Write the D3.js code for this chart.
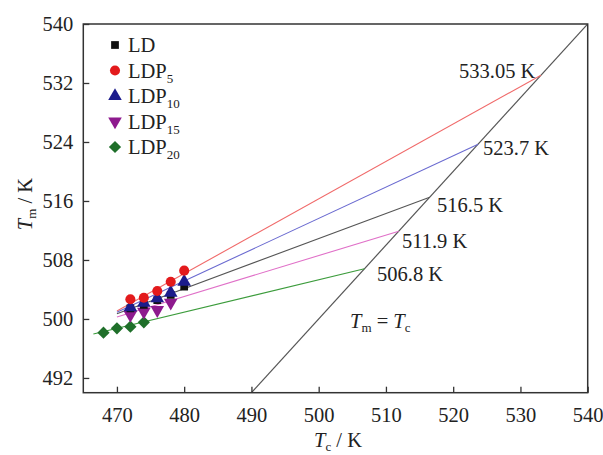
<!DOCTYPE html>
<html><head><meta charset="utf-8">
<script src="https://cdn.jsdelivr.net/npm/d3@7"></script>
<style>body{margin:0;background:#fff}svg{display:block}svg text{font-family:'Liberation Serif','Times New Roman',Times,serif !important;fill:#222}</style>
</head><body><svg id="c" width="603" height="455"></svg>
<script>
// ---- data ----
const seriesNames = ["LD","LDP5","LDP10","LDP15","LDP20"];
const tcLD = [472,474,476,478,480];
const tmLD = [501.45,501.9,502.57,503.25,504.37];
const tcLDP5 = [472,474,476,478,480];
const tmLDP5 = [502.67,502.88,503.79,505.05,506.55];
const tcLDP10 = [472,474,476,478,480];
const tmLDP10 = [501.58,502.2,502.8,503.56,505.05];
const tcLDP15 = [472,474,476,478];
const tmLDP15 = [500.54,500.99,501.21,502.2];
const tcLDP20 = [468,470,472,474];
const tmLDP20 = [498.14,498.73,498.95,499.55];
// extrapolated fit lines: start point and equilibrium melting point (Tm0)
const fitStartTc = [470,470,470,470,466.5];
const fitStartTm = [500.72,501.08,500.9,500.27,497.95];
const tmEq = [516.5,533.05,523.7,511.9,506.8];
const xTicks = [470,480,490,500,510,520,530,540];
const yTicks = [492,500,508,516,524,532,540];
const xDomain = [465,540];
const yDomain = [490,540];

// ---- styles ----
const markerColors = ["#111111","#e31a1c","#1c1c8c","#8e1a8e","#1f6f2a"];
const lineColors = ["#555555","#f06a6a","#6a6ad0","#e070c8","#3c9c3c"];
const shapes = ["square","circle","triangle","triangleDown","diamond"];
const FS = 20.5, SUB = 13;

const svg = d3.select("#c");
const L=83.3, R=587.7, T=24, B=392.7;
const x = d3.scaleLinear().domain(xDomain).range([L,R]);
const y = d3.scaleLinear().domain(yDomain).range([B,T]);

svg.append("clipPath").attr("id","clip").append("rect").attr("x",L).attr("y",T).attr("width",R-L).attr("height",B-T);
const g = svg.append("g").attr("clip-path","url(#clip)");

// diagonal Tm = Tc
g.append("line").attr("x1",x(490)).attr("y1",y(490)).attr("x2",x(540)).attr("y2",y(540))
 .attr("stroke","#555").attr("stroke-width",1.2);

// fit lines
seriesNames.forEach((n,i)=>{
  g.append("line").attr("x1",x(fitStartTc[i])).attr("y1",y(fitStartTm[i]))
   .attr("x2",x(tmEq[i])).attr("y2",y(tmEq[i]))
   .attr("stroke",lineColors[i]).attr("stroke-width",1.1);
});

function sym(shape,size){
  if(shape==="circle") return d3.symbol(d3.symbolCircle,size)();
  if(shape==="square"||shape==="diamond") return d3.symbol(d3.symbolSquare,size)();
  return d3.symbol(d3.symbolTriangle,size)();
}
function rot(shape){ return shape==="triangleDown"?180:(shape==="diamond"?45:0); }
const sizes = {square:60,circle:80,triangle:80,triangleDown:80,diamond:75};

const allTc=[tcLD,tcLDP5,tcLDP10,tcLDP15,tcLDP20];
const allTm=[tmLD,tmLDP5,tmLDP10,tmLDP15,tmLDP20];
const drawOrder=[4,3,0,2,1];
drawOrder.forEach(i=>{
  allTc[i].forEach((tc,k)=>{
    g.append("path").attr("d",sym(shapes[i],sizes[shapes[i]]))
     .attr("transform",`translate(${x(tc)},${y(allTm[i][k])}) rotate(${rot(shapes[i])})`)
     .attr("fill",markerColors[i]);
  });
});

// frame
svg.append("rect").attr("x",L).attr("y",T).attr("width",R-L).attr("height",B-T)
 .attr("fill","none").attr("stroke","#333").attr("stroke-width",1.5);

// axes (inward ticks)
const xa = svg.append("g").attr("transform",`translate(0,${B})`)
 .call(d3.axisBottom(x).tickValues(xTicks).tickSize(-6).tickPadding(11).tickFormat(d3.format("d")));
const ya = svg.append("g").attr("transform",`translate(${L},0)`)
 .call(d3.axisLeft(y).tickValues(yTicks).tickSize(-6).tickPadding(10).tickFormat(d3.format("d")));
[xa,ya].forEach(a=>{
  a.attr("font-family",null).attr("font-size",null);
  a.select(".domain").remove();
  a.selectAll(".tick line").attr("stroke","#333").attr("stroke-width",1.3);
  a.selectAll(".tick text").attr("font-size",FS).attr("fill","#222");
});
xa.selectAll(".tick text").attr("dy","0.9em");

// axis titles
const xt = svg.append("text").attr("x",338).attr("y",447).attr("text-anchor","middle").attr("font-size",FS);
xt.append("tspan").attr("font-style","italic").text("T");
xt.append("tspan").attr("font-size",SUB).attr("dy",4).text("c");
xt.append("tspan").attr("dy",-4).text(" / K");

const yt = svg.append("text").attr("transform","translate(32,204) rotate(-90)").attr("text-anchor","middle").attr("font-size",FS);
yt.append("tspan").attr("font-style","italic").text("T");
yt.append("tspan").attr("font-size",SUB).attr("dy",4).text("m");
yt.append("tspan").attr("dy",-4).text(" / K");

// Tm = Tc label
const eq = svg.append("text").attr("x",350).attr("y",328).attr("font-size",FS);
eq.append("tspan").attr("font-style","italic").text("T");
eq.append("tspan").attr("font-size",SUB).attr("dy",4).text("m");
eq.append("tspan").attr("dy",-4).text(" = ");
eq.append("tspan").attr("font-style","italic").text("T");
eq.append("tspan").attr("font-size",SUB).attr("dy",4).text("c");

// equilibrium labels
const labelPos = [[437,212],[459,78],[483,155],[402,248],[377,281]];
seriesNames.forEach((n,i)=>{
  svg.append("text").attr("x",labelPos[i][0]).attr("y",labelPos[i][1]).attr("font-size",FS)
   .text(d3.format(".2~f")(tmEq[i])+" K");
});

// legend
const subs = ["","5","10","15","20"];
seriesNames.forEach((n,i)=>{
  const ly = 45 + i*25.5;
  svg.append("path").attr("d",sym(shapes[i],sizes[shapes[i]]))
   .attr("transform",`translate(115,${ly}) rotate(${rot(shapes[i])})`).attr("fill",markerColors[i]);
  const t = svg.append("text").attr("x",128).attr("y",ly+7).attr("font-size",FS);
  t.append("tspan").text("LD");
  if(subs[i]){ t.append("tspan").text("P"); t.append("tspan").attr("font-size",SUB).attr("dy",5).text(subs[i]); }
});
</script></body></html>
